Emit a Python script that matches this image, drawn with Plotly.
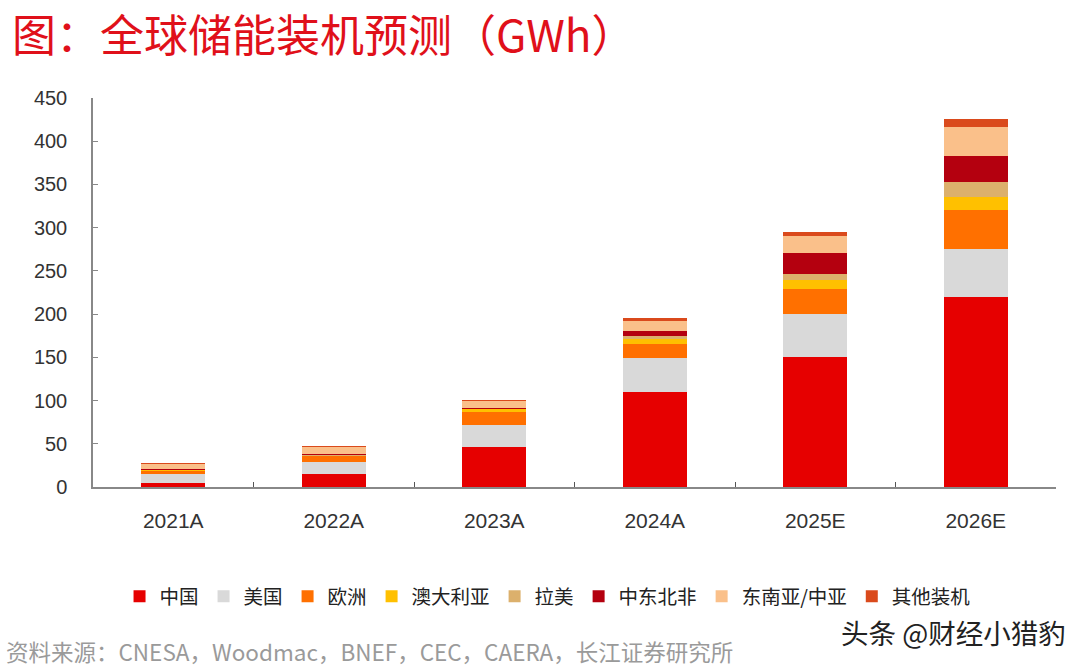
import plotly.graph_objects as go

categories = ["2021A", "2022A", "2023A", "2024A", "2025E", "2026E"]
series_names = ["中国", "美国", "欧洲", "澳大利亚", "拉美", "中东北非", "东南亚/中亚", "其他装机"]
china = [4.6, 14.7, 46, 110, 150, 220]
usa = [11, 14.3, 26, 39, 50.5, 55]
europe = [4, 7, 14.5, 16, 29, 45]
australia = [0.5, 1, 4, 6, 9.5, 15]
latam = [0.3, 0.5, 0.5, 4, 7.5, 18]
mena = [0.3, 0.5, 0.3, 6, 24.5, 30]
sea = [6.2, 9, 8.5, 11, 19.5, 33]
other = [0.2, 0.2, 0.4, 3, 5, 10]
colors = ["#E60000", "#D9D9D9", "#FF7000", "#FFC000", "#DCB06C", "#B4000F", "#FAC08A", "#DA4A1C"]

values = [china, usa, europe, australia, latam, mena, sea, other]

fig = go.Figure()
for name, vals, col in zip(series_names, values, colors):
    fig.add_trace(go.Bar(x=categories, y=vals, name=name, marker=dict(color=col, line=dict(width=0)), width=0.4))

yfont = dict(family="Arial, Liberation Sans, sans-serif", size=20, color="#333333")
xfont = dict(family="Arial, Liberation Sans, sans-serif", size=21, color="#333333")
fig.update_layout(
    barmode="stack",
    width=1089, height=666,
    paper_bgcolor="white", plot_bgcolor="white",
    margin=dict(l=93, r=33, t=98, b=179),
    font=dict(family="Noto Sans CJK SC, sans-serif"),
    showlegend=True,
    legend=dict(orientation="h", x=0.472, xanchor="center", y=-0.282, yanchor="middle",
                font=dict(family="Noto Sans CJK SC", size=19.5, color="#222222"),
                itemwidth=30, traceorder="normal"),
    yaxis=dict(range=[0, 450], tickvals=[0, 50, 100, 150, 200, 250, 300, 350, 400, 450],
               showgrid=False, zeroline=False, showline=True, linecolor="#888888", linewidth=1.5,
               ticks="inside", ticklen=5, tickcolor="#888888", tickfont=yfont, ticklabelstandoff=20),
    xaxis=dict(showgrid=False, showline=True, linecolor="#888888", linewidth=1.5,
               ticks="inside", tickson="boundaries", ticklen=5, tickcolor="#555555",
               tickfont=xfont, ticklabelstandoff=14),
    annotations=[
        dict(text="图：全球储能装机预测（GWh）", xref="paper", yref="paper",
             x=-0.085, y=1.251, xanchor="left", yanchor="top", showarrow=False, borderpad=0,
             font=dict(family="Noto Sans CJK SC", size=44, color="#E0101A")),
        dict(text="资料来源：CNESA，Woodmac，BNEF，CEC，CAERA，长江证券研究所", xref="paper", yref="paper",
             x=-0.092, y=-0.421, xanchor="left", yanchor="middle", showarrow=False,
             font=dict(family="Noto Sans CJK SC", size=22.5, color="#9A9A9A")),
        dict(text="头条 @财经小猎豹", xref="paper", yref="paper",
             x=1.012, y=-0.373, xanchor="right", yanchor="middle", showarrow=False,
             font=dict(family="Noto Sans CJK SC", size=27.5, color="#222222")),
    ],
)

fig.write_html("out.html", config={"displayModeBar": False},
               post_script="document.body.style.margin='0';document.body.style.overflow='hidden';")
